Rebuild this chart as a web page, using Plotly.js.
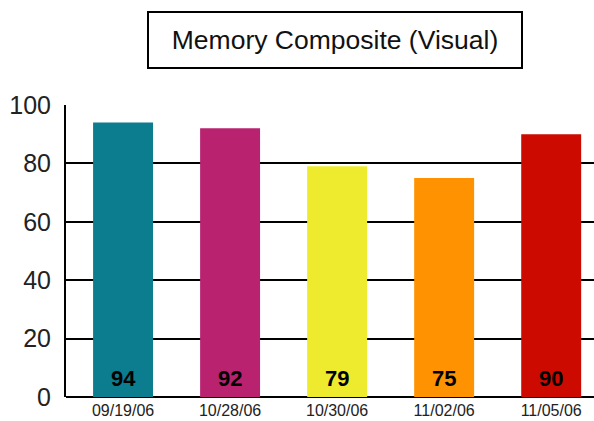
<!DOCTYPE html>
<html>
<head>
<meta charset="utf-8">
<script src="https://cdn.plot.ly/plotly-3.0.1.min.js"></script>
<style>html,body{margin:0;padding:0;background:#fff;}#chart{width:594px;height:421px;}</style>
</head>
<body>
<div id="chart"></div>
<script>
const categories = ["09/19/06", "10/28/06", "10/30/06", "11/02/06", "11/05/06"];
const values = [94, 92, 79, 75, 90];
const barColors = ["#0b7d8f", "#b8226f", "#eeeb2f", "#ff9200", "#cc0a00"];
const yTicks = [0, 20, 40, 60, 80, 100];
const chartTitle = "Memory Composite (Visual)";

const font = "Liberation Sans, Arial, sans-serif";

const trace = {
  type: "bar",
  x: categories,
  y: values,
  marker: {color: barColors, line: {width: 0}},
  width: 0.56,
  hoverinfo: "skip"
};

const labelAnnotations = categories.map((c, i) => ({
  x: c, y: 0, xref: "x", yref: "y",
  text: "<b>" + values[i] + "</b>",
  showarrow: false, yanchor: "bottom", yshift: 4,
  font: {family: font, size: 22, color: "#000"}
}));

const layout = {
  width: 594, height: 421,
  margin: {l: 66, r: 0, t: 105, b: 24, pad: 0},
  paper_bgcolor: "#fff", plot_bgcolor: "#fff",
  showlegend: false,
  bargap: 0.44,
  xaxis: {
    type: "category",
    range: [-0.533, 4.40],
    showgrid: false, zeroline: false,
    showline: false,
    ticks: "", ticklen: 0,
    ticklabelstandoff: 2,
    tickfont: {family: font, size: 16, color: "#222"},
    fixedrange: true
  },
  yaxis: {
    range: [0, 100],
    tickvals: yTicks,
    ticktext: yTicks.map(String),
    showgrid: true, gridcolor: "#000", gridwidth: 2,
    zeroline: true, zerolinecolor: "#000", zerolinewidth: 2,
    showline: true, linecolor: "#000", linewidth: 2,
    ticks: "", ticklen: 0,
    ticklabelstandoff: 8,
    tickfont: {family: font, size: 25, color: "#222"},
    fixedrange: true
  },
  annotations: [
    {
      xref: "paper", yref: "paper",
      x: (335 - 66) / 528, y: 1 + (105 - 40) / 292,
      xanchor: "center", yanchor: "middle",
      text: chartTitle, showarrow: false,
      width: 372, height: 54,
      bordercolor: "#000", borderwidth: 2, borderpad: 0,
      bgcolor: "#fff",
      font: {family: font, size: 26.5, color: "#111"}
    }
  ].concat(labelAnnotations)
};

Plotly.newPlot("chart", [trace], layout, {displayModeBar: false, staticPlot: true});
</script>
</body>
</html>
